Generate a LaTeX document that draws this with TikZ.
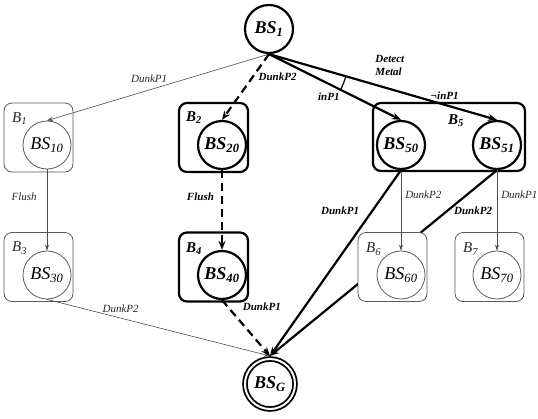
\documentclass[tikz,border=0pt]{standalone}
\usepackage{fontspec}
\setmainfont{Liberation Serif}
\usetikzlibrary{arrows.meta, angles}
\pgfdeclarelayer{background}
\pgfsetlayers{background,main}

\begin{document}
\begin{tikzpicture}[x=1pt, y=1pt,
    thinbox/.style={draw=black!65, line width=0.8pt, rounded corners=8pt, fill=white,
        minimum width=69pt, minimum height=69pt},
    thickbox/.style={draw=black, line width=2.2pt, rounded corners=8pt, fill=white,
        minimum width=69pt, minimum height=69pt},
    thinstate/.style={circle, draw=black!65, line width=0.8pt, minimum size=48pt, inner sep=0pt,
        font=\fontsize{18}{20}\selectfont\itshape},
    thickstate/.style={circle, draw=black, line width=2.2pt, minimum size=48pt, inner sep=0pt,
        font=\fontsize{18}{20}\selectfont\bfseries\itshape},
    thinedge/.style={draw=black!70, line width=0.6pt, -{Stealth[length=6pt, width=4pt]}},
    thickedge/.style={draw=black, line width=2.2pt, -{Stealth[length=9pt, width=7pt]}},
    dashedge/.style={thickedge, dash pattern=on 8pt off 5pt},
    lbl/.style={font=\fontsize{11}{13}\selectfont\itshape, inner sep=1pt, text=black!85},
    blbl/.style={font=\fontsize{11}{13}\selectfont\bfseries\itshape, inner sep=1pt},
    boxlbl/.style={font=\fontsize{15}{17}\selectfont\itshape, inner sep=0pt, text=black!85},
    bboxlbl/.style={font=\fontsize{15}{17}\selectfont\bfseries\itshape, inner sep=0pt}]

    \useasboundingbox (0,0) rectangle (538,-418);

    % Boxes
    \node[thinbox] (B1) at (38.5,-137.5) {};
    \node[thickbox] (B2) at (213.5,-137.5) {};
    \node[thickbox, minimum width=152pt, minimum height=68pt] (B5) at (449,-137) {};
    \node[thinbox] (B3) at (38.5,-267) {};
    \node[thickbox] (B4) at (213.5,-267) {};
    \node[thinbox] (B6) at (392.5,-267) {};
    \node[thinbox] (B7) at (489.5,-267) {};

    % Box names
    \node[boxlbl] (lB1) at ([shift={(16,-16)}]B1.north west) {B\textsubscript{1}};
    \node[bboxlbl] (lB2) at ([shift={(16,-16)}]B2.north west) {B\textsubscript{2}};
    \node[boxlbl] (lB3) at ([shift={(16,-16)}]B3.north west) {B\textsubscript{3}};
    \node[bboxlbl] (lB4) at ([shift={(16,-17)}]B4.north west) {B\textsubscript{4}};
    \node[bboxlbl] (lB5) at ([shift={(7,-19)}]B5.north) {B\textsubscript{5}};
    \node[boxlbl] (lB6) at ([shift={(16,-17)}]B6.north west) {B\textsubscript{6}};
    \node[boxlbl] (lB7) at ([shift={(16,-17)}]B7.north west) {B\textsubscript{7}};

    % States
    \node[thickstate] (BS1) at (269,-29) {BS\textsubscript{1}};
    \node[thinstate] (BS10) at (47,-145) {BS\textsubscript{10}};
    \node[thickstate] (BS20) at (222,-145) {BS\textsubscript{20}};
    \node[thickstate] (BS50) at (401,-145) {BS\textsubscript{50}};
    \node[thickstate] (BS51) at (497,-145) {BS\textsubscript{51}};
    \node[thinstate] (BS30) at (47,-275) {BS\textsubscript{30}};
    \node[thickstate] (BS40) at (222,-275) {BS\textsubscript{40}};
    \node[thinstate] (BS60) at (401,-275) {BS\textsubscript{60}};
    \node[thinstate] (BS70) at (497,-275) {BS\textsubscript{70}};
    \node[circle, draw, line width=1.8pt, double=white, double distance=2pt, minimum size=50pt,
        inner sep=0pt, outer sep=3pt, font=\fontsize{18}{20}\selectfont\bfseries\itshape]
        (BSG) at (270,-384) {BS\textsubscript{G}};

    % Transitions
    \draw[thinedge] (BS1.south) -- (BS10.north) node[lbl, pos=.54, above=6pt] {DunkP1};
    \draw[dashedge] (BS1.south) -- (BS20.north) node[blbl, pos=.35, right=4pt] {DunkP2};
    \draw[thickedge] (BS1.south) -- (BS50.north) node[blbl, pos=.55, anchor=north east] {inP1};
    \draw[thickedge] (BS1.south) -- (BS51.north)
        node[blbl, pos=.77, above=3pt] {¬inP1}
        node[blbl, pos=.53, above=11pt, align=left] {Detect\\Metal};
    \coordinate (top) at (BS1.south);
    \coordinate (n50) at (BS50.north);
    \coordinate (n51) at (BS51.north);
    \pic[draw, line width=1.2pt, angle radius=80pt] {angle = n50--top--n51};

    \draw[thinedge] (BS10.south) -- (BS30.north) node[lbl, pos=.34, left=9pt] {Flush};
    \draw[dashedge] (BS20.south) -- (BS40.north) node[blbl, pos=.34, left=6pt] {Flush};
    \draw[thinedge] (BS50.south) -- (BS60.north) node[lbl, pos=.3, right=3pt] {DunkP2};
    \draw[thinedge] (BS51.south) -- (BS70.north) node[lbl, pos=.3, right=3pt] {DunkP1};

    \draw[thinedge] (BS30.south) -- (BSG.north) node[lbl, pos=.33, above=4pt] {DunkP2};
    \draw[dashedge] (BS40.south) -- (BSG.north) node[blbl, pos=.12, right=13pt] {DunkP1};
    \draw[thickedge] (BS50.south) -- (BSG.north) node[blbl, pos=.22, left=11pt] {DunkP1};
    \begin{pgfonlayer}{background}
        \draw[thickedge] (BS51.south) -- (BSG.north) node[blbl, pos=.22, right=5pt] {DunkP2};
    \end{pgfonlayer}
\end{tikzpicture}
\end{document}
